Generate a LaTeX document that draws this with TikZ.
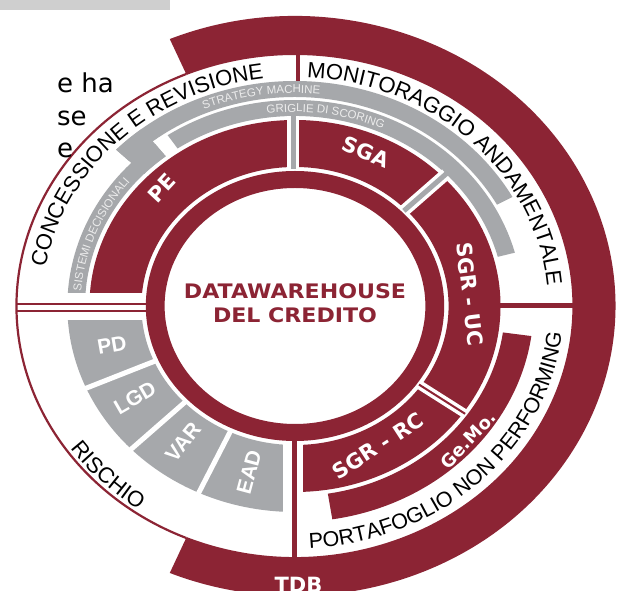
\documentclass[tikz,border=0pt]{standalone}
\usepackage{fontspec}
\setmainfont{DejaVu Sans}
\newfontfamily\lib{Liberation Sans}
\newfontfamily\dvb{DejaVu Sans}
\usetikzlibrary{decorations.text}
\definecolor{dred}{HTML}{8C2434}
\definecolor{dgray}{HTML}{A6A8AB}
\definecolor{lgray}{HTML}{CFCFCF}
\definecolor{glabel}{HTML}{ECECEC}
\def\sx{1.105}
% annular sector: colour, r inner, r outer, angle from, angle to
\newcommand\AnnSec[5]{%
  \fill[#1] ({\sx*(#3)*cos(#4)},{(#3)*sin(#4)})
    arc[start angle=#4, end angle=#5, x radius={\sx*(#3)*1pt}, y radius={(#3)*1pt}]
    -- ({\sx*(#2)*cos(#5)},{(#2)*sin(#5)})
    arc[start angle=#5, end angle=#4, x radius={\sx*(#2)*1pt}, y radius={(#2)*1pt}] -- cycle;}
% radial line: style, angle, r1, r2
\newcommand\RadLine[4]{%
  \draw[#1] ({\sx*(#3)*cos(#2)},{(#3)*sin(#2)}) -- ({\sx*(#4)*cos(#2)},{(#4)*sin(#2)});}
% text along an elliptic arc: radius, angle from, angle to, colour, font, text
\newcommand\ArcText[6]{%
  \path[decorate, decoration={text along path, text align=center, text color=#4, text={|#5|#6}}]
    ({\sx*(#1)*cos(#2)},{(#1)*sin(#2)})
    arc[start angle=#2, end angle=#3, x radius={\sx*(#1)*1pt}, y radius={(#1)*1pt}];}
\tikzset{
  sectlab/.style={text=white, font=\dvb\bfseries\fontsize{21}{21}\selectfont, inner sep=0pt},
  graylab/.style={text=white, font=\lib\bfseries\fontsize{21}{21}\selectfont, inner sep=0pt},
  centerlab/.style={text=dred, font=\dvb\bfseries\fontsize{20}{20}\selectfont, inner sep=0pt, anchor=base, xscale=\sx},
  sidetext/.style={text=black, font=\dvb\fontsize{26}{26}\selectfont, inner sep=0pt, anchor=base west}
}
\begin{document}
\begin{tikzpicture}[x=1pt,y=1pt]
\useasboundingbox (-295,-285) rectangle (329,306);
\fill[white] (-295,-285) rectangle (329,306);
% top-left grey bar
\fill[lgray] (-295,296) rectangle (-125,306);
% outer band and thin circle
\AnnSec{dred}{251}{290}{113}{-113}
\draw[dred, line width=2.2pt] ({\sx*252*cos(113)},{252*sin(113)})
  arc[start angle=113, end angle=247, x radius={\sx*252*1pt}, y radius={252pt}];
% dividers in the label ring
\draw[dred, line width=4pt] (3.5,224) -- (3.5,252);
\draw[dred, line width=5pt] ({\sx*185},0.5) -- ({\sx*252},0.5);
% grey bands
\AnnSec{dgray}{209}{225}{29}{136}
\AnnSec{dgray}{190}{225}{128}{136}
\AnnSec{dgray}{190}{206}{128}{180}
\AnnSec{dgray}{190}{206}{15}{124}
% red sectors
\AnnSec{dred}{139}{186}{-90}{180}
% grey risk sectors
\AnnSec{dgray}{139}{206}{180}{270}
% Ge.Mo. band
\AnnSec{dred}{190}{216}{-81}{-8}
% separators between risk sectors
\RadLine{white, line width=5pt}{203.5}{136}{212}
\RadLine{white, line width=5pt}{224}{136}{212}
\RadLine{white, line width=5pt}{245}{136}{212}
% bottom vertical divider
\draw[white, line width=20pt] (-2,-137) -- (-2,-250);
\draw[dred, line width=5pt] (-0.5,-135) -- (-0.5,-252);
% left horizontal divider
\fill[white] (-276,13) rectangle (-150,-14);
\draw[dred, line width=2.5pt] (-278,2) -- (-149,2);
\draw[dred, line width=2.5pt] (-278,-5) -- (-149,-5);
% separators between red sectors
\draw[white, line width=12pt] (-1.5,136) -- (-1.5,190);
\draw[dgray, line width=5pt] (-1.5,137) -- (-1.5,192);
\RadLine{white, line width=12pt}{44}{136}{190}
\RadLine{dgray, line width=5pt}{44}{137}{192}
\RadLine{white, line width=9pt}{-35}{136}{188}
\RadLine{dred, line width=2pt}{-35}{137}{188}
% central ring
\fill[dred, even odd rule] (0,0) ellipse[x radius={\sx*135pt}, y radius=135pt]
  (0,0) ellipse[x radius={\sx*118pt}, y radius=118pt];
% centre text
\node[centerlab] (dw1) at (0,7) {DATAWAREHOUSE};
\node[centerlab] (dw2) at (0,-17) {DEL CREDITO};
% sector labels
\node[sectlab, rotate=47] (pe) at (-133,118) {PE};
\node[sectlab, rotate=-22] (sga) at (71,154) {SGA};
\node[sectlab, rotate=-83] (sgruc) at (175,12) {SGR - UC};
\node[sectlab, rotate=33] (sgrrc) at (83,-140) {SGR - RC};
\node[sectlab, rotate=46, font=\dvb\bfseries\fontsize{18}{18}\selectfont] (gemo) at (173,-134) {Ge.Mo.};
\node[graylab, rotate=10] (pd) at (-183,-39) {PD};
\node[graylab, rotate=30] (lgd) at (-160,-92) {LGD};
\node[graylab, rotate=51] (var) at (-112,-136) {VAR};
\node[graylab, rotate=75] (ead) at (-46,-166) {EAD};
\node[sectlab, anchor=base] (tdb) at (3.5,-286) {TDB};
% ring labels
\ArcText{229}{176}{92}{black}{\lib\fontsize{22}{22}\selectfont}{CONCESSIONE E REVISIONE}
\ArcText{229}{90}{2}{black}{\lib\fontsize{22}{22}\selectfont}{MONITORAGGIO ANDAMENTALE}
\ArcText{248}{-151}{-119}{black}{\lib\fontsize{22}{22}\selectfont}{RISCHIO}
\ArcText{243}{-90}{-3}{black}{\lib\fontsize{21.5}{21.5}\selectfont}{PORTAFOGLIO NON PERFORMING}
\ArcText{213}{130}{67}{glabel}{\lib\fontsize{11.5}{11.5}\selectfont}{STRATEGY MACHINE}
\ArcText{194}{115}{48}{glabel}{\lib\fontsize{11.5}{11.5}\selectfont}{GRIGLIE DI SCORING}
\ArcText{194}{180}{136}{glabel}{\lib\fontsize{11.5}{11.5}\selectfont}{SISTEMI DECISIONALI}
% cut-off slide text at the left
\node[sidetext] (t1) at (-238,213.5) {e ha};
\node[sidetext] (t2) at (-238,180) {se};
\node[sidetext] (t3) at (-238,148) {e};
\end{tikzpicture}
\end{document}
